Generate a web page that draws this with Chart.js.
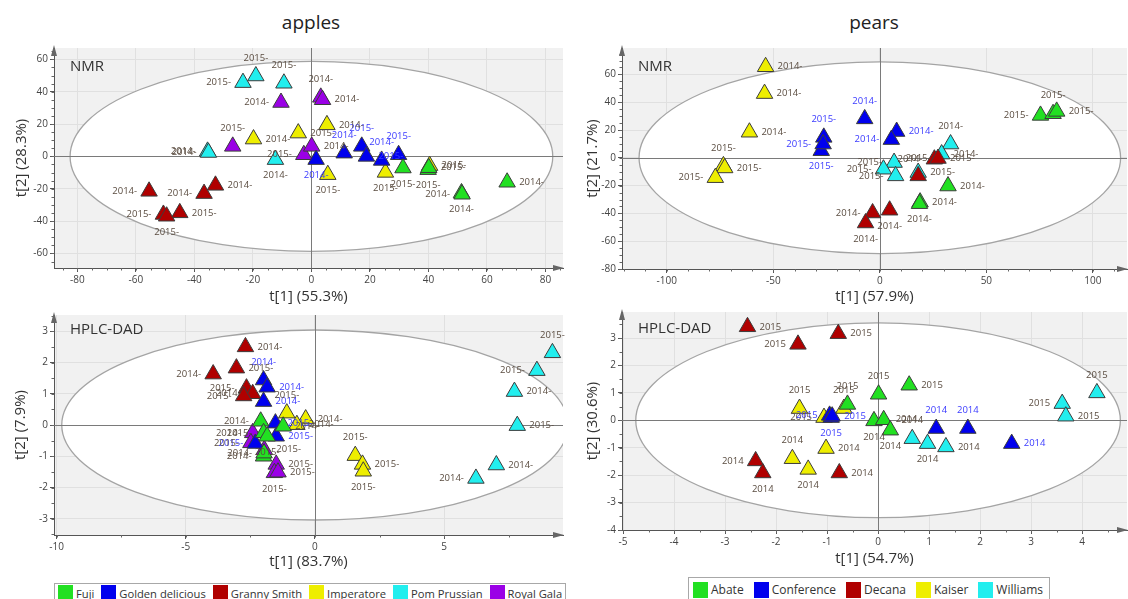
<!DOCTYPE html>
<html>
<head>
<meta charset="utf-8">
<script src="https://cdn.jsdelivr.net/npm/chart.js@4.4.1/dist/chart.umd.min.js"></script>
<style>
  body { margin: 0; width: 1128px; height: 599px; background: #fff; position: relative; overflow: hidden; font-family: "Open Sans", sans-serif; }
  .ttl { position: absolute; top: 9px; font-size: 19px; color: #222; transform: translateX(-50%); }
  canvas { position: absolute; }
  .legend { position: absolute; border: 1px solid #a8a8a8; display: flex; color: #333; background: #fff; box-sizing: border-box; white-space: nowrap; }
  .legend .sw { display: inline-block; width: 15px; height: 16px; margin-right: 3px; }
  .legend .it { display: flex; align-items: center; }
  #leg1 { font-size: 11.2px; align-items: flex-start; padding: 1px 0 0 3px; }
  #leg1 .it { margin-right: 7px; }
  #leg2 { font-size: 12px; align-items: center; padding-left: 4px; }
  #leg2 .it { margin-right: 10px; }
</style>
</head>
<body>
<div class="ttl" style="left:311px">apples</div>
<div class="ttl" style="left:874px">pears</div>
<canvas id="c1" width="565" height="270" style="left:0;top:38px"></canvas>
<canvas id="c2" width="563" height="270" style="left:565px;top:38px"></canvas>
<canvas id="c3" width="565" height="268" style="left:0;top:305px"></canvas>
<canvas id="c4" width="563" height="268" style="left:565px;top:302px"></canvas>
<div class="legend" id="leg1" style="left:54px;top:583px;width:512px;height:22px"></div>
<div class="legend" id="leg2" style="left:688px;top:577px;width:362px;height:25px"></div>
<script>
// ---- categories ----
let appleVarieties = ['Fuji', 'Golden delicious', 'Granny Smith', 'Imperatore', 'Pom Prussian', 'Royal Gala']
let appleColors = ['#22e022', '#0000ee', '#b00000', '#eeee00', '#22eeee', '#9a00e6']
let pearVarieties = ['Abate', 'Conference', 'Decana', 'Kaiser', 'Williams']
let pearColors = ['#22e022', '#0000ee', '#b00000', '#eeee00', '#22eeee']

// ---- apples, NMR ----
let applesNmrX = [
  [31.3, 39.9, 51.3, 51.5, 66.9, 40.1],
  [1.6, 11.2, 17.2, 18.8, 24.0, 29.8],
  [-55.5, -36.7, -32.8, -50.6, -45.0, -49.5],
  [5.3, -4.5, -19.8, 5.6, 25.3, 40.4],
  [-23.4, -19.0, -9.4, -35.5, -12.3, -35.2],
  [-10.4, 3.2, 3.8, -26.9, -2.6, 0.1]
]
let applesNmrY = [
  [-7.2, -8.2, -22.6, -23.4, -16.0, -7.0],
  [-2.0, 2.0, 6.2, 0.0, -2.5, 1.0],
  [-21.6, -23.0, -17.9, -35.9, -34.9, -37.0],
  [19.5, 14.4, 10.7, -11.3, -9.9, -5.7],
  [45.6, 49.7, 45.2, 3.1, -2.0, 2.4],
  [33.3, 36.5, 35.0, 6.2, 1.0, 6.2]
]
let applesNmrYear = [
  ['2015-', '2015-', '2014-', '2014-', '2014-', '2015-'],
  ['2014-', '2014-', '2015-', '2015-', '2014-', '2015-'],
  ['2014-', '2014-', '2014-', '2015-', '2015-', '2015-'],
  ['2014-', '2015-', '2014-', '2015-', '2015-', '2015-'],
  ['2015-', '2015-', '2015-', '2014-', '2014-', '2014-'],
  ['2014-', '2014-', '2014-', '2015-', '2015-', '2014-']
]
let applesNmrSide = [
  ['b', 'b', 'b', 'l', 'r', 'r'],
  ['b', 'a', 'a', 'r', 'a', 'a'],
  ['l', 'l', 'r', 'l', 'r', 'b'],
  ['r', 'r', 'r', 'b', 'b', 'r'],
  ['l', 'a', 'a', 'l', 'b', 'l'],
  ['l', 'a', 'r', 'a', 'l', 'r']
]

// ---- pears, NMR ----
let pearsNmrX = [
  [75.4, 81.3, 83.0, 32.0, 18.9, 18.6],
  [-7.1, 7.9, 5.4, -26.3, -27.5, -26.6],
  [25.6, 27.3, 18.0, -3.4, -6.7, 4.6],
  [-53.6, -54.1, -61.2, -73.4, -72.8, -77.2],
  [33.2, 29.0, 6.7, 1.7, 7.4, 18.0]
]
let pearsNmrY = [
  [30.5, 31.7, 33.4, -20.3, -31.9, -33.0],
  [28.0, 18.9, 13.1, 14.7, 5.1, 9.9],
  [-1.0, -0.5, -13.0, -39.7, -46.9, -37.7],
  [65.5, 46.2, 18.4, -5.8, -7.3, -14.3],
  [9.9, 2.7, -3.4, -8.2, -13.0, -10.6]
]
let pearsNmrYear = [
  ['2015-', '2015-', '2015-', '2014-', '2014-', '2014-'],
  ['2014-', '2014-', '2014-', '2015-', '2015-', '2015-'],
  ['2014-', '2015-', '2015-', '2014-', '2014-', '2014-'],
  ['2014-', '2014-', '2014-', '2015-', '2015-', '2015-'],
  ['2014-', '2014-', '2015-', '2015-', '2015-', '2015-']
]
let pearsNmrSide = [
  ['l', 'a', 'r', 'r', 'r', 'b'],
  ['a', 'r', 'l', 'a', 'b', 'l'],
  ['l', 'r', 'a', 'l', 'b', 'b'],
  ['r', 'r', 'r', 'a', 'r', 'l'],
  ['a', 'r', 'l', 'l', 'l', 'r']
]

// ---- apples, HPLC-DAD ----
let applesHplcX = [
  [-2.10, -1.99, -1.23, -1.85, -1.99, -1.97],
  [-1.99, -1.85, -1.99, -1.53, -1.50, -2.31],
  [-2.69, -3.94, -3.04, -2.65, -2.41, -2.76],
  [-1.09, -0.36, -0.70, 1.56, 1.84, 1.87],
  [9.19, 8.59, 7.72, 7.83, 7.02, 6.23],
  [-2.41, -2.48, -1.96, -1.50, -1.57, -1.43]
]
let applesHplcY = [
  [0.12, -0.25, -0.04, -0.36, -1.00, -0.90],
  [1.44, 1.21, 0.75, 0.06, -0.36, -0.59],
  [2.50, 1.63, 1.82, 1.18, 1.00, 0.93],
  [0.38, 0.19, 0.01, -0.98, -1.26, -1.48],
  [2.31, 1.74, 1.07, -0.02, -1.28, -1.71],
  [-0.25, -0.57, -0.79, -1.26, -1.53, -1.51]
]
let applesHplcYear = [
  ['2014-', '2015-', '2014-', '2015-', '2014-', '2014-'],
  ['2014-', '2014-', '2014-', '2015-', '2015-', '2015-'],
  ['2014-', '2014-', '2015-', '2015-', '2014-', '2015-'],
  ['2015-', '2014-', '2014-', '2015-', '2015-', '2015-'],
  ['2015-', '2015-', '2014-', '2015-', '2014-', '2014-'],
  ['2014-', '2015-', '2015-', '2015-', '2015-', '2015-']
]
let applesHplcSide = [
  ['l', 'l', 'r', 'b', 'l', 'l'],
  ['a', 'r', 'r', 'r', 'r', 'l'],
  ['r', 'l', 'r', 'l', 'l', 'l'],
  ['a', 'r', 'r', 'a', 'r', 'b'],
  ['a', 'l', 'r', 'r', 'r', 'l'],
  ['l', 'l', 'r', 'r', 'b', 'r']
]

// ---- pears, HPLC-DAD ----
let pearsHplcX = [
  [0.61, 0.01, -0.60, -0.08, 0.11, 0.24],
  [-0.95, -0.92, 1.14, 1.76, 2.62, -0.90],
  [-2.56, -1.57, -0.78, -2.40, -2.26, -0.76],
  [-1.54, -0.67, -1.06, -1.02, -1.68, -1.37],
  [4.29, 3.61, 3.68, 0.67, 0.97, 1.33]
]
let pearsHplcY = [
  [1.28, 0.95, 0.58, -0.02, 0.02, -0.36],
  [0.18, 0.10, -0.30, -0.30, -0.85, 0.15],
  [3.41, 2.77, 3.16, -1.48, -1.92, -1.92],
  [0.43, 0.43, 0.10, -1.03, -1.40, -1.79],
  [1.00, 0.61, 0.15, -0.67, -0.85, -0.97]
]
let pearsHplcYear = [
  ['2015', '2015', '2015', '2014', '2014', '2014'],
  ['2015', '2015', '2014', '2014', '2014', '2015'],
  ['2015', '2015', '2015', '2014', '2014', '2014'],
  ['2015', '2015', '2015', '2014', '2014', '2014'],
  ['2015', '2015', '2015', '2014', '2014', '2014']
]
let pearsHplcSide = [
  ['r', 'a', 'a', 'b', 'r', 'b'],
  ['l', 'b', 'a', 'a', 'r', 'r'],
  ['r', 'l', 'r', 'l', 'b', 'r'],
  ['a', 'a', 'l', 'r', 'a', 'b'],
  ['a', 'l', 'r', 'a', 'b', 'r']
]

// Hotelling ellipse semi-axes (t1, t2)
let applesNmrEllipse = [82.5, 58.7]
let pearsNmrEllipse = [113, 69]
let applesHplcEllipse = [9.8, 3.04]
let pearsHplcEllipse = [4.75, 3.55]

let labelColor = '#5a4c40'
let blueLabelColor = '#3a3aff'

function decor(p) {
  return {
    id: 'decor',
    beforeDraw(chart) {
      let { ctx, chartArea: a } = chart
      ctx.save()
      ctx.fillStyle = '#f1f1f1'
      ctx.fillRect(a.left, a.top, a.right - a.left, a.bottom - a.top)
      ctx.restore()
    },
    beforeDatasetsDraw(chart) {
      let { ctx, chartArea: a, scales } = chart
      let x = scales.x, y = scales.y
      ctx.save()
      ctx.beginPath()
      ctx.rect(a.left, a.top, a.right - a.left, a.bottom - a.top)
      ctx.clip()
      let cx = x.getPixelForValue(0), cy = y.getPixelForValue(0)
      let rx = Math.abs(x.getPixelForValue(p.ellipse[0]) - cx)
      let ry = Math.abs(y.getPixelForValue(p.ellipse[1]) - cy)
      ctx.beginPath()
      ctx.ellipse(cx, cy, rx, ry, 0, 0, 2 * Math.PI)
      ctx.fillStyle = '#fff'
      ctx.fill()
      ctx.strokeStyle = '#a4a4a4'
      ctx.lineWidth = 1.3
      ctx.stroke()
      ctx.strokeStyle = '#7a7a7a'
      ctx.lineWidth = 1
      ctx.beginPath()
      ctx.moveTo(a.left, Math.round(cy) + 0.5); ctx.lineTo(a.right, Math.round(cy) + 0.5)
      ctx.moveTo(Math.round(cx) + 0.5, a.top); ctx.lineTo(Math.round(cx) + 0.5, a.bottom)
      ctx.stroke()
      ctx.restore()

      // minor ticks + arrows
      ctx.save()
      ctx.strokeStyle = '#666'
      ctx.lineWidth = 1
      ctx.beginPath()
      for (let v = Math.ceil(x.min / p.minor[0]) * p.minor[0]; v <= x.max; v += p.minor[0]) {
        let px = Math.round(x.getPixelForValue(v)) + 0.5
        ctx.moveTo(px, a.bottom); ctx.lineTo(px, a.bottom + 2.5)
      }
      for (let v = Math.ceil(y.min / p.minor[1]) * p.minor[1]; v <= y.max; v += p.minor[1]) {
        let py = Math.round(y.getPixelForValue(v)) + 0.5
        ctx.moveTo(a.left, py); ctx.lineTo(a.left - 2.5, py)
      }
      ctx.stroke()
      ctx.fillStyle = '#666'
      ctx.beginPath()
      ctx.moveTo(a.left, a.top - 3); ctx.lineTo(a.left - 3, a.top + 8); ctx.lineTo(a.left + 3, a.top + 8); ctx.closePath()
      ctx.moveTo(a.right + 1, a.bottom); ctx.lineTo(a.right - 10, a.bottom - 3); ctx.lineTo(a.right - 10, a.bottom + 3); ctx.closePath()
      ctx.fill()
      ctx.fillStyle = '#333'
      ctx.font = '15px "Open Sans"'
      ctx.textBaseline = 'middle'
      ctx.textAlign = 'left'
      ctx.fillText(p.method, a.left + 16, a.top + p.methodDy)
      ctx.restore()
    },
    afterDatasetsDraw(chart) {
      let { ctx } = chart
      ctx.save()
      ctx.font = '9.5px "Open Sans"'
      p.years.forEach((row, i) => {
        let meta = chart.getDatasetMeta(i)
        ctx.fillStyle = i === p.blueIndex ? blueLabelColor : labelColor
        row.forEach((txt, j) => {
          let el = meta.data[j]
          let side = p.sides[i][j]
          let tx = el.x, ty = el.y
          ctx.textBaseline = 'middle'
          if (side === 'r') { ctx.textAlign = 'left'; tx += 12 }
          else if (side === 'l') { ctx.textAlign = 'right'; tx -= 12 }
          else if (side === 'a') { ctx.textAlign = 'center'; ty -= 18 }
          else { ctx.textAlign = 'center'; ty += 16 }
          ctx.fillText(txt, tx, ty)
        })
      })
      ctx.restore()
    }
  }
}

function axis(min, max, step, title, box, isX, titlePad) {
  return {
    type: 'linear',
    min: min,
    max: max,
    ticks: {
      stepSize: step, includeBounds: false, autoSkip: false, maxRotation: 0,
      color: '#444', font: { size: 10, family: 'Open Sans' }, padding: 2
    },
    grid: { color: '#e0e0e0', tickColor: '#555', tickLength: 4 },
    border: { color: '#555', width: 1 },
    title: { display: true, text: title, color: '#333', font: { size: 15, family: 'Open Sans' }, padding: titlePad },
    afterFit: s => { if (isX) s.height = box; else s.width = box },
    afterBuildTicks: s => {
      s.ticks = s.ticks.filter(t => Math.abs(t.value / step - Math.round(t.value / step)) < 1e-6)
    }
  }
}

function makePanel(id, p) {
  let datasets = p.names.map((name, i) => ({
    label: name,
    data: p.xs[i].map((v, j) => ({ x: v, y: p.ys[i][j] })),
    pointStyle: 'triangle',
    pointRadius: 9.5,
    pointHoverRadius: 9.5,
    backgroundColor: p.colors[i],
    borderColor: '#3c3c3c',
    borderWidth: 1
  }))
  new Chart(document.getElementById(id), {
    type: 'scatter',
    data: { datasets: datasets },
    options: {
      responsive: false,
      animation: false,
      layout: { autoPadding: false, padding: { top: 10, right: p.padRight, left: 0, bottom: 0 } },
      plugins: { legend: { display: false }, tooltip: { enabled: false } },
      scales: {
        x: axis(p.xr[0], p.xr[1], p.xStep, p.xTitle, p.xBox, true, { top: 0, bottom: 2 }),
        y: axis(p.yr[0], p.yr[1], p.yStep, p.yTitle, p.yBox, false, { top: p.yTitlePad, bottom: 0 })
      }
    },
    plugins: [decor(p)]
  })
}

makePanel('c1', {
  names: appleVarieties, colors: appleColors, xs: applesNmrX, ys: applesNmrY,
  years: applesNmrYear, sides: applesNmrSide, blueIndex: 1,
  ellipse: applesNmrEllipse, method: 'NMR', methodDy: 19,
  xr: [-88, 86], yr: [-69, 67], xStep: 20, yStep: 20, minor: [5, 5],
  xTitle: 't[1] (55.3%)', yTitle: 't[2] (28.3%)', xBox: 40, yBox: 54, yTitlePad: 13, padRight: 2
})
makePanel('c2', {
  names: pearVarieties, colors: pearColors, xs: pearsNmrX, ys: pearsNmrY,
  years: pearsNmrYear, sides: pearsNmrSide, blueIndex: 1,
  ellipse: pearsNmrEllipse, method: 'NMR', methodDy: 19,
  xr: [-121, 116], yr: [-80, 79], xStep: 50, yStep: 20, minor: [10, 5],
  xTitle: 't[1] (57.9%)', yTitle: 't[2] (21.7%)', xBox: 39, yBox: 57, yTitlePad: 19, padRight: 1
})
makePanel('c3', {
  names: appleVarieties, colors: appleColors, xs: applesHplcX, ys: applesHplcY,
  years: applesHplcYear, sides: applesHplcSide, blueIndex: 1,
  ellipse: applesHplcEllipse, method: 'HPLC-DAD', methodDy: 15,
  xr: [-10.1, 9.6], yr: [-3.52, 3.52], xStep: 5, yStep: 1, minor: [2.5, 0.5],
  xTitle: 't[1] (83.7%)', yTitle: 't[2] (7.9%)', xBox: 38, yBox: 54, yTitlePad: 12, padRight: 2
})
makePanel('c4', {
  names: pearVarieties, colors: pearColors, xs: pearsHplcX, ys: pearsHplcY,
  years: pearsHplcYear, sides: pearsHplcSide, blueIndex: 1,
  ellipse: pearsHplcEllipse, method: 'HPLC-DAD', methodDy: 17,
  xr: [-5.02, 4.88], yr: [-4, 3.95], xStep: 1, yStep: 1, minor: [0.5, 0.5],
  xTitle: 't[1] (54.7%)', yTitle: 't[2] (30.6%)', xBox: 40, yBox: 57, yTitlePad: 19, padRight: 1
})

function buildLegend(id, names, colors) {
  let box = document.getElementById(id)
  names.forEach((n, i) => {
    let it = document.createElement('span')
    it.className = 'it'
    it.innerHTML = '<span class="sw" style="background:' + colors[i] + '"></span>' + n
    box.appendChild(it)
  })
}
buildLegend('leg1', appleVarieties, appleColors)
buildLegend('leg2', pearVarieties, pearColors)
</script>
</body>
</html>
